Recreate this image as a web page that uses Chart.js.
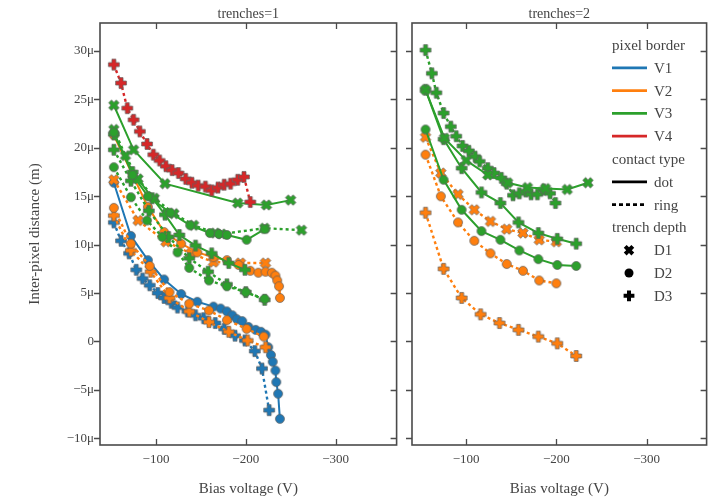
<!DOCTYPE html>
<html>
<head>
<meta charset="utf-8">
<script src="https://cdn.jsdelivr.net/npm/chart.js@4.4.1/dist/chart.umd.min.js"></script>
<style>
  body { margin: 0; background: #fff; }
  #wrap { position: relative; width: 714px; height: 500px; }
  #c1 { position: absolute; left: 0; top: 0; }
  #c2 { position: absolute; left: 404px; top: 0; }
  #legend { position: absolute; left: 0; top: 0; pointer-events: none; }
</style>
</head>
<body>
<div id="wrap">
  <canvas id="c1" width="404" height="500"></canvas>
  <canvas id="c2" width="310" height="500"></canvas>
  <svg id="legend" width="714" height="500" xmlns="http://www.w3.org/2000/svg"></svg>
</div>
<script>
// bias voltage (V) and inter-pixel distance (in µm)

// trenches = 1
const t1_V4_ring_D3_v = [-53, -61, -68, -75, -82, -90, -97, -104, -111, -118, -125, -133, -140, -147, -155, -162, -169, -176, -183, -191, -198, -205];
const t1_V4_ring_D3_d = [28.6, 26.7, 24.1, 22.9, 21.7, 20.4, 19.3, 18.7, 18.1, 17.7, 17.4, 16.8, 16.4, 16.1, 16.0, 15.6, 15.9, 16.2, 16.3, 16.7, 17.0, 14.4];

const t1_V3_dot_D1_v = [-53, -75, -110, -191, -223, -250];
const t1_V3_dot_D1_d = [24.4, 19.8, 16.3, 14.3, 14.1, 14.6];

const t1_V3_dot_D2_v = [-53, -74, -91, -116, -138, -160, -170, -179, -201, -221];
const t1_V3_dot_D2_d = [21.6, 17.2, 15.0, 13.3, 12.0, 11.2, 11.1, 11.0, 10.5, 11.6];

const t1_V3_dot_D3_v = [-53, -74, -96, -110, -126, -144, -162, -181, -199];
const t1_V3_dot_D3_d = [21.4, 17.5, 14.8, 13.1, 11.0, 9.9, 9.1, 8.1, 7.4];

const t1_V3_ring_D1_v = [-53, -66, -80, -98, -120, -142, -166, -173, -221, -262];
const t1_V3_ring_D1_d = [21.9, 19.2, 16.8, 14.8, 13.2, 12.0, 11.2, 11.1, 11.7, 11.5];

const t1_V3_ring_D2_v = [-53, -72, -90, -107, -124, -137, -159, -179, -200, -221];
const t1_V3_ring_D2_d = [18.0, 14.9, 12.5, 10.8, 9.2, 7.6, 6.3, 5.7, 5.1, 4.4];

const t1_V3_ring_D3_v = [-53, -72, -92, -114, -137, -158, -179, -200, -221];
const t1_V3_ring_D3_d = [19.8, 16.6, 13.5, 10.8, 8.6, 7.2, 5.9, 5.1, 4.3];

const t1_V2_dot_D2_v = [-53, -74, -91, -109, -128, -146, -164, -179, -192, -205, -214, -222, -229, -233, -235, -237, -238];
const t1_V2_dot_D2_d = [21.3, 17.2, 13.9, 11.3, 10.1, 9.2, 8.7, 8.4, 7.9, 7.3, 7.1, 7.2, 7.1, 6.8, 6.3, 5.7, 4.5];

const t1_V2_ring_D1_v = [-53, -80, -111, -139, -164, -194, -222];
const t1_V2_ring_D1_d = [16.7, 12.5, 10.3, 9.1, 8.2, 8.1, 8.1];

const t1_V2_ring_D2_v = [-53, -72, -93, -115, -137, -159, -179, -201, -220];
const t1_V2_ring_D2_d = [13.8, 10.1, 7.8, 5.1, 3.9, 3.2, 2.2, 1.3, 0.5];

const t1_V2_ring_D3_v = [-53, -72, -94, -115, -137, -159, -181, -202, -222];
const t1_V2_ring_D3_d = [13.0, 9.4, 7.2, 4.5, 3.1, 2.0, 1.0, 0.1, -0.6];

const t1_V1_dot_D2_v = [-53, -72, -91, -109, -128, -146, -164, -172, -179, -185, -190, -196, -203, -211, -217, -222, -225, -228, -230, -233, -234, -236, -238];
const t1_V1_dot_D2_d = [16.4, 10.9, 8.4, 6.4, 4.9, 4.1, 3.6, 3.4, 3.1, 2.7, 2.3, 2.1, 1.5, 1.2, 1.0, 0.7, -0.6, -1.4, -2.1, -3.0, -4.2, -5.4, -8.0];

const t1_V1_ring_D3_v = [-53, -61, -70, -78, -85, -93, -102, -109, -117, -124, -135, -144, -153, -166, -176, -188, -199, -210, -218, -226];
const t1_V1_ring_D3_d = [12.3, 10.4, 9.1, 7.4, 6.5, 5.8, 5.0, 4.5, 4.0, 3.5, 3.1, 2.7, 2.4, 1.9, 1.3, 0.6, 0.1, -1.0, -2.8, -7.1];

// trenches = 2
const t2_V2_ring_D1_v = [-55, -72, -91, -109, -127, -145, -163, -181, -200];
const t2_V2_ring_D1_d = [21.1, 17.4, 15.2, 13.6, 12.4, 11.6, 11.2, 10.5, 10.3];

const t2_V2_ring_D2_v = [-55, -72, -91, -109, -127, -145, -163, -181, -200];
const t2_V2_ring_D2_d = [19.3, 15.0, 12.3, 10.4, 9.1, 8.0, 7.3, 6.3, 6.0];

const t2_V2_ring_D3_v = [-55, -75, -95, -116, -137, -158, -180, -201, -222];
const t2_V2_ring_D3_d = [13.3, 7.5, 4.5, 2.8, 1.9, 1.2, 0.5, -0.2, -1.5];

const t2_V3_dot_D1_v = [-55, -76, -100, -124, -146, -168, -188, -212, -235];
const t2_V3_dot_D1_d = [26.0, 21.0, 18.7, 17.2, 16.4, 15.9, 15.8, 15.7, 16.4];

const t2_V3_dot_D2_v = [-55, -75, -95, -117, -138, -159, -180, -201, -222];
const t2_V3_dot_D2_d = [21.9, 16.7, 13.6, 11.4, 10.5, 9.4, 8.5, 7.9, 7.8];

const t2_V3_dot_D3_v = [-55, -75, -95, -117, -138, -158, -180, -201, -222];
const t2_V3_dot_D3_d = [26.0, 20.9, 17.9, 15.4, 14.3, 12.3, 11.2, 10.6, 10.1];

const t2_V3_ring_D3_v = [-55, -62, -67, -75, -83, -89, -96, -103, -110, -115, -124, -131, -139, -145, -152, -159, -166, -172, -179, -186, -193, -199];
const t2_V3_ring_D3_d = [30.1, 27.7, 25.7, 23.6, 22.2, 21.2, 20.2, 19.7, 19.1, 18.6, 17.9, 17.4, 16.9, 16.3, 15.1, 15.3, 15.5, 15.2, 15.2, 15.7, 15.3, 14.3];

const xTicks = [-100, -200, -300];
const yTicks = [-10, -5, 0, 5, 10, 15, 20, 25, 30];

const borders = ['V1', 'V2', 'V3', 'V4'];
const contacts = ['dot', 'ring'];
const depths = ['D1', 'D2', 'D3'];

const panel1 = [
  ['V4', 'ring', 'D3', t1_V4_ring_D3_v, t1_V4_ring_D3_d],
  ['V3', 'dot', 'D1', t1_V3_dot_D1_v, t1_V3_dot_D1_d],
  ['V3', 'dot', 'D2', t1_V3_dot_D2_v, t1_V3_dot_D2_d],
  ['V3', 'dot', 'D3', t1_V3_dot_D3_v, t1_V3_dot_D3_d],
  ['V3', 'ring', 'D1', t1_V3_ring_D1_v, t1_V3_ring_D1_d],
  ['V3', 'ring', 'D2', t1_V3_ring_D2_v, t1_V3_ring_D2_d],
  ['V3', 'ring', 'D3', t1_V3_ring_D3_v, t1_V3_ring_D3_d],
  ['V2', 'dot', 'D2', t1_V2_dot_D2_v, t1_V2_dot_D2_d],
  ['V2', 'ring', 'D1', t1_V2_ring_D1_v, t1_V2_ring_D1_d],
  ['V2', 'ring', 'D2', t1_V2_ring_D2_v, t1_V2_ring_D2_d],
  ['V2', 'ring', 'D3', t1_V2_ring_D3_v, t1_V2_ring_D3_d],
  ['V1', 'dot', 'D2', t1_V1_dot_D2_v, t1_V1_dot_D2_d],
  ['V1', 'ring', 'D3', t1_V1_ring_D3_v, t1_V1_ring_D3_d]
];
const panel2 = [
  ['V3', 'dot', 'D1', t2_V3_dot_D1_v, t2_V3_dot_D1_d],
  ['V3', 'dot', 'D2', t2_V3_dot_D2_v, t2_V3_dot_D2_d],
  ['V3', 'dot', 'D3', t2_V3_dot_D3_v, t2_V3_dot_D3_d],
  ['V3', 'ring', 'D3', t2_V3_ring_D3_v, t2_V3_ring_D3_d],
  ['V2', 'ring', 'D1', t2_V2_ring_D1_v, t2_V2_ring_D1_d],
  ['V2', 'ring', 'D2', t2_V2_ring_D2_v, t2_V2_ring_D2_d],
  ['V2', 'ring', 'D3', t2_V2_ring_D3_v, t2_V2_ring_D3_d]
];

const colors = { V1: '#1f77b4', V2: '#ff7f0e', V3: '#2ca02c', V4: '#d62728' };
const shapes = { D1: 'x', D2: 'circle', D3: 'plus' };
const textColor = '#444';
const FONT = "'Liberation Serif', 'DejaVu Serif', serif";

Chart.defaults.font.family = FONT;
Chart.defaults.color = textColor;

function plusPoints(shape, c, a, w) {
  const pts = [[-w,-a],[w,-a],[w,-w],[a,-w],[a,w],[w,w],[w,a],[-w,a],[-w,w],[-a,w],[-a,-w],[-w,-w]];
  const r = shape === 'x' ? Math.PI / 4 : 0;
  return pts.map(([px, py]) => [c + px * Math.cos(r) - py * Math.sin(r), c + px * Math.sin(r) + py * Math.cos(r)]);
}

const markerCache = {};
function marker(shape, color) {
  const key = shape + color;
  if (markerCache[key]) return markerCache[key];
  const s = 14, c = s / 2;
  const cv = document.createElement('canvas');
  cv.width = s; cv.height = s;
  const g = cv.getContext('2d');
  g.fillStyle = color;
  g.strokeStyle = 'rgba(95,95,95,0.8)';
  g.lineWidth = 0.9;
  g.beginPath();
  if (shape === 'circle') {
    g.arc(c, c, 4.5, 0, Math.PI * 2);
  } else {
    plusPoints(shape, c, 5.4, 2).forEach(([x, y], i) => i ? g.lineTo(x, y) : g.moveTo(x, y));
    g.closePath();
  }
  g.fill();
  g.stroke();
  markerCache[key] = cv;
  return cv;
}

function makeDatasets(list) {
  return list.map(([b, ct, dp, vs, ds]) => ({
    label: b + ' ' + ct + ' ' + dp,
    data: vs.map((v, i) => ({ x: v, y: ds[i] })),
    showLine: true,
    borderColor: colors[b],
    borderWidth: ct === 'ring' ? 2.4 : 2,
    borderDash: ct === 'ring' ? [3, 3] : [],
    pointStyle: marker(shapes[dp], colors[b]),
    pointRadius: 5,
    tension: 0
  }));
}

// frame round the plot area with ticks on all four sides
const framePlugin = {
  id: 'frame',
  afterDraw(chart) {
    const { ctx, chartArea: a, scales: { x, y } } = chart;
    ctx.save();
    ctx.strokeStyle = '#4a4a4a';
    ctx.lineWidth = 1.6;
    ctx.strokeRect(a.left, a.top, a.right - a.left, a.bottom - a.top);
    ctx.lineWidth = 1.3;
    ctx.beginPath();
    x.ticks.forEach(t => {
      const px = Math.round(x.getPixelForValue(t.value)) + 0.5;
      ctx.moveTo(px, a.bottom); ctx.lineTo(px, a.bottom - 6);
      ctx.moveTo(px, a.top); ctx.lineTo(px, a.top + 6);
    });
    y.ticks.forEach(t => {
      const py = Math.round(y.getPixelForValue(t.value)) + 0.5;
      ctx.moveTo(a.left, py); ctx.lineTo(a.left - 6, py);
      ctx.moveTo(a.right, py); ctx.lineTo(a.right - 6, py);
    });
    ctx.stroke();
    ctx.restore();
  }
};

const minus = '\u2212';
function fmtX(v) { return (v < 0 ? minus : '') + Math.abs(v); }
function fmtY(v) { return v === 0 ? '0' : (v < 0 ? minus : '') + Math.abs(v) + '\u03bc'; }

function makeChart(id, list, title, xmin, xmax, withYLabels) {
  return new Chart(document.getElementById(id), {
    type: 'scatter',
    data: { datasets: makeDatasets(list) },
    plugins: [framePlugin],
    options: {
      responsive: false,
      animation: false,
      devicePixelRatio: 1,
      layout: { padding: { left: 0, right: 4, top: 0, bottom: 0 } },
      plugins: {
        legend: { display: false },
        tooltip: { enabled: false },
        title: {
          display: true, text: title, fullSize: false, color: textColor,
          font: { size: 14, weight: 'normal' }, padding: { top: 5.6, bottom: 0.6 }
        }
      },
      scales: {
        x: {
          type: 'linear', reverse: true, min: xmin, max: xmax,
          afterBuildTicks: s => { s.ticks = xTicks.map(v => ({ value: v })); },
          afterFit: s => { s.height = 55; },
          grid: { display: false, drawTicks: false },
          border: { display: false },
          ticks: { padding: 7, font: { size: 13 }, color: textColor, callback: fmtX },
          title: { display: true, text: 'Bias voltage (V)', color: textColor, font: { size: 15 }, padding: { top: 0, bottom: 2 } }
        },
        y: {
          type: 'linear', min: -10.7, max: 32.9,
          afterBuildTicks: s => { s.ticks = yTicks.map(v => ({ value: v })); },
          afterFit: s => { s.width = withYLabels ? 100 : 8; },
          grid: { display: false, drawTicks: false },
          border: { display: false },
          ticks: { display: withYLabels, padding: 6, font: { size: 13 }, color: textColor, callback: fmtY },
          title: { display: withYLabels, text: 'Inter-pixel distance (m)', color: textColor, font: { size: 15 }, padding: { top: 26, bottom: 0 } }
        }
      }
    }
  });
}

makeChart('c1', panel1, 'trenches=1', -368, -37.6, true);
makeChart('c2', panel2, 'trenches=2', -366.5, -40, false);

// legend, drawn as svg over the right panel
const svg = document.getElementById('legend');
const NS = 'http://www.w3.org/2000/svg';
function el(name, attrs, text) {
  const e = document.createElementNS(NS, name);
  for (const k in attrs) e.setAttribute(k, attrs[k]);
  if (text) e.textContent = text;
  svg.appendChild(e);
  return e;
}
const rows = [];
rows.push({ title: 'pixel border' });
borders.forEach(b => rows.push({ label: b, line: colors[b] }));
rows.push({ title: 'contact type' });
contacts.forEach(c => rows.push({ label: c, line: '#000', dash: c === 'ring' }));
rows.push({ title: 'trench depth' });
depths.forEach(d => rows.push({ label: d, shape: shapes[d] }));

const lx = 612, ltext = 654;
rows.forEach((r, i) => {
  const y = 45 + i * 22.8;
  const textAttrs = { y: y, 'dominant-baseline': 'central', fill: textColor, 'font-family': FONT, 'font-size': 15 };
  if (r.title) {
    el('text', Object.assign({ x: lx }, textAttrs), r.title);
    return;
  }
  if (r.line) {
    const a = { x1: lx, x2: lx + 35, y1: y, y2: y, stroke: r.line, 'stroke-width': 2.8 };
    if (r.dash) a['stroke-dasharray'] = '4 3';
    el('line', a);
  } else if (r.shape === 'circle') {
    el('circle', { cx: lx + 17, cy: y, r: 4.5, fill: '#000' });
  } else {
    const pts = plusPoints(r.shape, 0, 5.4, 2).map(([px, py]) => (px + lx + 17) + ',' + (py + y)).join(' ');
    el('polygon', { points: pts, fill: '#000' });
  }
  el('text', Object.assign({ x: ltext }, textAttrs), r.label);
});
</script>
</body>
</html>
